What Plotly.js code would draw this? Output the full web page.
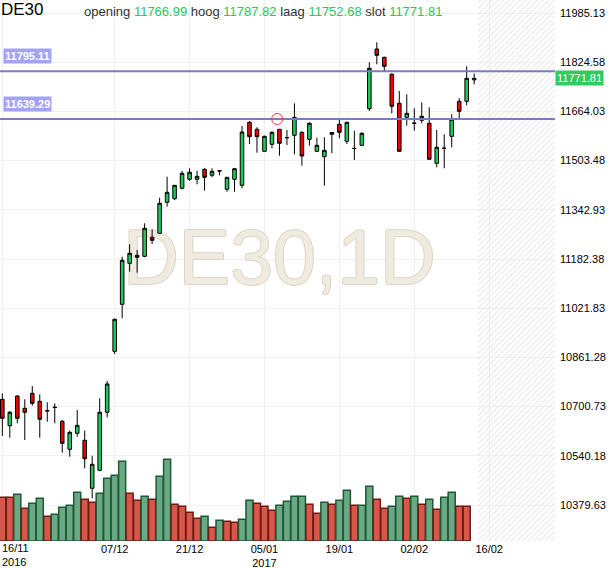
<!DOCTYPE html>
<html><head><meta charset="utf-8">
<script src="https://cdn.plot.ly/plotly-3.0.1.min.js"></script>
<style>html,body{margin:0;padding:0;background:#fff}#chart{width:610px;height:568px}</style>
</head><body><div id="chart"></div>
<script>
const symbol = 'DE30';
const timeframe = '1D';
const dates = ['2016-11-16','2016-11-17','2016-11-18','2016-11-21','2016-11-22','2016-11-23','2016-11-24','2016-11-25','2016-11-28','2016-11-29','2016-11-30',
'2016-12-01','2016-12-02','2016-12-05','2016-12-06','2016-12-07','2016-12-08','2016-12-09','2016-12-12','2016-12-13','2016-12-14','2016-12-15','2016-12-16','2016-12-19','2016-12-20','2016-12-21','2016-12-22','2016-12-23','2016-12-27','2016-12-28','2016-12-29','2016-12-30',
'2017-01-02','2017-01-03','2017-01-04','2017-01-05','2017-01-06','2017-01-09','2017-01-10','2017-01-11','2017-01-12','2017-01-13','2017-01-16','2017-01-17','2017-01-18','2017-01-19','2017-01-20','2017-01-23','2017-01-24','2017-01-25','2017-01-26','2017-01-27','2017-01-30','2017-01-31',
'2017-02-01','2017-02-02','2017-02-03','2017-02-06','2017-02-07','2017-02-08','2017-02-09','2017-02-10','2017-02-13','2017-02-14'];
const futureDates = ['2017-02-15','2017-02-16','2017-02-17','2017-02-20','2017-02-21','2017-02-22','2017-02-23','2017-02-24','2017-02-27','2017-02-28','2017-03-01'];

const open = [10724.6,10638.5,10735.4,10695.2,10744.2,10718.1,10688.0,10699.0,10652.8,10561.5,10613.7,10590.8,10434.3,10493.0,10682.2,10881.2,
11034.6,11168.4,11194.5,11191.2,11253.3,11266.3,11367.4,11379.2,11413.1,11442.5,11442.5,11475.1,11455.6,11470.5,11409.8,11442.5,
11422.9,11628.5,11605.6,11533.8,11556.7,11605.6,11578.8,11586.1,11595.8,11573.0,11533.8,11516.2,11589.3,11621.9,11566.5,11543.6,
11553.4,11672.9,11867.6,11840.6,11785.1,11690.5,11644.8,11625.8,11635.0,11625.2,11494.7,11544.0,11582.8,11697.0,11697.0,11766.99];
const high = [10744.2,10686.5,10738.0,10724.6,10768.0,10741.0,10714.8,10711.6,10657.1,10622.2,10689.7,10622.2,10540.6,10727.9,10784.3,10988.0,
11189.9,11230.4,11211.8,11298.9,11279.4,11382.4,11451.0,11423.9,11470.5,11478.4,11470.5,11478.4,11478.4,11471.8,11449.5,11478.4,
11616.4,11632.7,11612.2,11584.8,11599.1,11606.6,11603.4,11690.5,11599.1,11628.5,11578.2,11579.5,11595.8,11636.0,11630.4,11601.1,
11595.8,11824.3,11889.5,11842.5,11788.4,11730.6,11719.8,11674.2,11693.7,11677.4,11603.4,11589.3,11654.6,11706.8,11811.2,11787.82];
const low = [10604.9,10599.3,10646.3,10591.8,10703.7,10599.3,10651.5,10646.3,10550.4,10537.3,10602.6,10499.5,10401.6,10490.0,10665.9,10872.4,
10988.9,11141.0,11137.7,11188.0,11231.4,11264.0,11353.1,11375.0,11409.8,11437.9,11426.2,11405.3,11449.0,11455.6,11402.0,11402.0,
11413.1,11557.7,11529.3,11533.0,11543.6,11519.5,11554.4,11524.0,11486.9,11552.1,11532.0,11421.6,11527.3,11576.3,11557.7,11505.5,
11552.0,11665.4,11817.7,11793.6,11657.8,11532.0,11617.4,11601.1,11625.2,11507.0,11481.6,11478.4,11546.9,11641.5,11684.0,11752.68];
const close = [10662.6,10682.2,10662.6,10682.2,10711.6,10659.4,10686.8,10698.0,10581.0,10616.9,10639.8,10530.8,10512.6,10682.2,10774.5,10985.7,
11178.2,11201.0,11188.0,11282.6,11243.4,11364.2,11400.1,11422.9,11462.0,11465.3,11452.3,11449.0,11468.6,11469.6,11449.0,11477.1,
11596.8,11581.5,11581.5,11582.8,11595.8,11560.0,11578.2,11644.8,11518.5,11625.2,11553.4,11537.1,11595.0,11595.8,11628.5,11543.0,
11592.6,11804.7,11847.1,11811.2,11680.7,11533.8,11657.8,11625.2,11648.0,11507.8,11546.9,11543.6,11638.3,11664.3,11772.0,11771.81];

// volume (relative units, thousands) and the colour class of each volume bar
const volume = [43.7,43.7,46.7,32.7,37.7,42.7,24.7,26.7,33.7,35.7,48.7,41.7,38.7,47.7,62.7,65.7,
79.7,47.7,40.7,44.7,41.7,64.7,81.7,36.7,34.7,28.7,22.7,24.7,13.7,20.7,19.7,18.7,
21.7,40.7,37.7,34.7,30.7,35.7,39.7,44.7,44.7,36.7,27.7,38.7,36.7,40.7,50.7,35.7,
35.7,54.7,41.7,32.7,34.7,44.7,42.7,44.7,36.7,41.7,31.7,43.7,48.7,34.7,34.7,null];
const volumeDir = ['down','down','up','down','up','up','down','up','up','up','up','down','down','up','up','up',
'up','down','down','up','down','up','up','down','down','down','down','up','down','up','down','down',
'up','up','down','down','down','up','up','up','up','down','down','up','down','up','up','down',
'up','up','down','down','up','up','down','up','down','up','down','up','up','down','down',null];

const refLevels = [11795.11, 11639.29];
const priceTicks = [10379.63,10540.18,10700.73,10861.28,11021.83,11182.38,11342.93,11503.48,11664.03,11824.58,11985.13];
const tickDates = ['2016-11-16','2016-12-07','2016-12-21','2017-01-05','2017-01-19','2017-02-02','2017-02-16'];
const tickLabels = ['16/11<br>2016','07/12','21/12','05/01<br>2017','19/01','02/02','16/02'];
const headerLabels = ['opening','hoog','laag','slot'];
const alertPoint = {index: 36.7, price: 11639.29};

const FONT = 'Liberation Sans, Arial, sans-serif';
const GREEN = '#1ec85a', RED = '#f00000';
const VOL_FILL = {up:'#6aa984', down:'#d9574a'};
const VOL_LINE = {up:'#1d5a37', down:'#6e1b12'};
const VALUE_GREEN = '#2bc65a';

const last = dates.length - 1;
// first label is drawn left-aligned at the plot edge (as in the source chart), the others centred on their tick
const tickText = tickLabels.map((t,i)=> i===0 ? '' : t);

const candles = {
  type:'candlestick', x:dates, open:open, high:high, low:low, close:close,
  xaxis:'x', yaxis:'y3', whiskerwidth:0,
  increasing:{line:{color:'#000', width:1}, fillcolor:GREEN},
  decreasing:{line:{color:'#000', width:1}, fillcolor:RED},
  hoverinfo:'skip', showlegend:false
};
const vols = {
  type:'bar', x:dates, y:volume, xaxis:'x', yaxis:'y2',
  marker:{color:volumeDir.map(d=>d?VOL_FILL[d]:'rgba(0,0,0,0)'),
          line:{color:volumeDir.map(d=>d?VOL_LINE[d]:'rgba(0,0,0,0)'), width:1.5}},
  hoverinfo:'skip', showlegend:false
};
const hatch = {
  type:'bar', x:futureDates, y:futureDates.map(()=>1), width:1, xaxis:'x', yaxis:'y',
  marker:{color:'rgba(0,0,0,0)', line:{width:0},
          pattern:{shape:'/', fgcolor:'#e6e6e6', bgcolor:'rgba(0,0,0,0)', size:4, solidity:0.25}},
  hoverinfo:'skip', showlegend:false
};
const watermark = {
  type:'scatter', mode:'text', x:[dates[37]], y:[0.51], xaxis:'x', yaxis:'y',
  text:[symbol + ',' + timeframe], textposition:'middle center',
  textfont:{family:FONT, size:77, color:'#efebe1',
            shadow:'1px 0 0 #dcd4c2, -1px 0 0 #dcd4c2, 0 1px 0 #dcd4c2, 0 -1px 0 #dcd4c2'},
  hoverinfo:'skip', showlegend:false, cliponaxis:false
};

const sp = s => '<span style="color:'+VALUE_GREEN+'">'+s+'</span>';
const ohlcLast = [open[last], high[last], low[last], close[last]];
const headerText = headerLabels.map((l,i)=> l + ' ' + sp(ohlcLast[i].toFixed(2))).join(' ');

const annotations = [
  {xref:'paper', yref:'paper', x:0, y:1, xanchor:'left', yanchor:'top', xshift:-1, yshift:2,
   text:symbol, showarrow:false, font:{family:FONT, size:17, color:'#000'}},
  {xref:'paper', yref:'paper', x:82/555, y:1, xanchor:'left', yanchor:'top', yshift:-2,
   text:headerText, showarrow:false, font:{family:FONT, size:13, color:'#333'}},
  {xref:'paper', yref:'y3', x:1, y:close[last], xanchor:'left', yanchor:'middle',
   text:close[last].toFixed(2), showarrow:false, bgcolor:'#2ecc5f', borderpad:1,
   font:{family:FONT, size:11, color:'#fff'}},
  {xref:'paper', yref:'paper', x:0, y:0, xanchor:'left', yanchor:'top', xshift:1, yshift:0,
   text:tickLabels[0], align:'left', showarrow:false, borderpad:0,
   font:{family:FONT, size:11, color:'#000'}}
].concat(refLevels.map(v=>({
   xref:'paper', yref:'y3', x:0.005, y:v, xanchor:'left', yanchor:'middle', yshift:15,
   text:'<b>'+v.toFixed(2)+'</b>', showarrow:false, bgcolor:'#a3a3f6', borderpad:1,
   font:{family:FONT, size:11, color:'#fff'}})));

const shapes = refLevels.map(v=>({
  type:'line', xref:'paper', yref:'y3', x0:0, x1:1, y0:v, y1:v,
  line:{color:'#7a7cbf', width:2}, layer:'above'
})).concat([{
  type:'circle', xref:'x', yref:'y3', xsizemode:'pixel', ysizemode:'pixel',
  xanchor:alertPoint.index, yanchor:alertPoint.price, x0:-5.5, x1:5.5, y0:-5.5, y1:5.5,
  line:{color:'#ff3b3b', width:1}, fillcolor:'rgba(0,0,0,0)', layer:'above'
}]);

const layout = {
  width:610, height:568,
  margin:{l:0, r:55, t:0, b:27, pad:0},
  paper_bgcolor:'#fff', plot_bgcolor:'#fff',
  font:{family:FONT, size:11, color:'#000'},
  showlegend:false, bargap:0.06, boxgap:0.32,
  xaxis:{type:'category', categoryorder:'array', categoryarray:dates.concat(futureDates),
         range:[-0.31, 73.79], tickvals:tickDates, ticktext:tickText,
         showgrid:true, gridcolor:'#f0f0f0', gridwidth:1, zeroline:false, showline:false,
         ticks:'', tickfont:{family:FONT, size:11, color:'#000'},
         rangeslider:{visible:false}, fixedrange:true},
  yaxis:{range:[0,1], visible:false, fixedrange:true},
  yaxis2:{overlaying:'y', range:[0,541], visible:false, fixedrange:true},
  yaxis3:{overlaying:'y', side:'right', anchor:'x', range:[10262.3, 12027.55],
          tickvals:priceTicks, ticktext:priceTicks.map(v=>v.toFixed(2)),
          showgrid:true, gridcolor:'#f0f0f0', gridwidth:1, zeroline:false, showline:false,
          ticks:'', ticklabelstandoff:4, tickfont:{family:FONT, size:11, color:'#000'}, fixedrange:true},
  annotations:annotations, shapes:shapes
};

Plotly.newPlot('chart', [hatch, watermark, vols, candles], layout, {displayModeBar:false, staticPlot:true});
</script></body></html>
